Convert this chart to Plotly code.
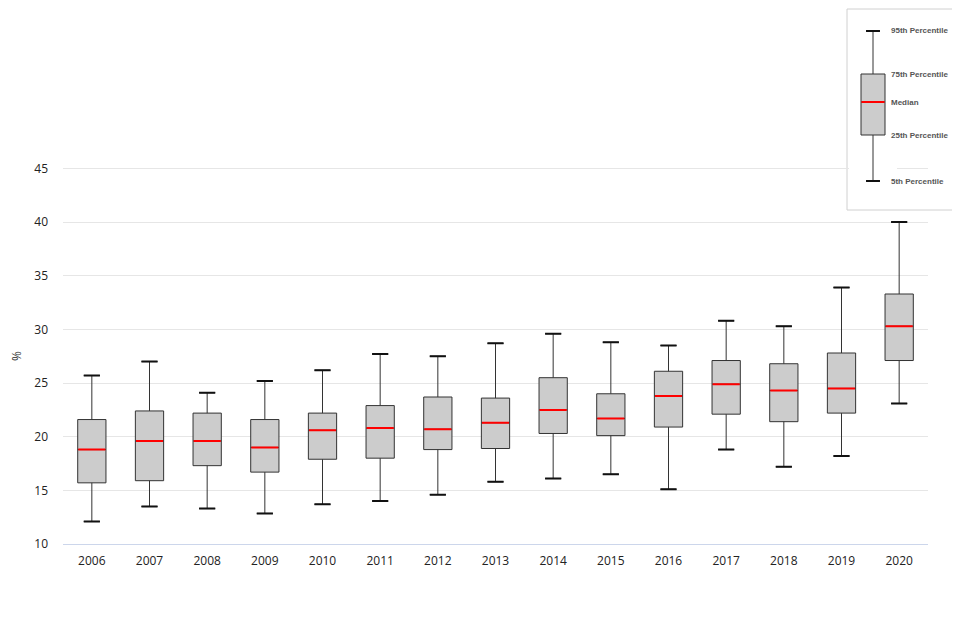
import plotly.graph_objects as go

# ---- data ----
years = ["2006", "2007", "2008", "2009", "2010", "2011", "2012", "2013",
         "2014", "2015", "2016", "2017", "2018", "2019", "2020"]
p5 = [12.1, 13.5, 13.3, 12.85, 13.7, 14.0, 14.6, 15.8, 16.1, 16.5, 15.1, 18.8, 17.2, 18.2, 23.1]
p25 = [15.7, 15.9, 17.3, 16.7, 17.9, 18.0, 18.8, 18.9, 20.3, 20.1, 20.9, 22.1, 21.4, 22.2, 27.1]
p50 = [18.8, 19.6, 19.6, 19.0, 20.6, 20.8, 20.7, 21.3, 22.5, 21.7, 23.8, 24.9, 24.3, 24.5, 30.3]
p75 = [21.6, 22.4, 22.2, 21.6, 22.2, 22.9, 23.7, 23.6, 25.5, 24.0, 26.1, 27.1, 26.8, 27.8, 33.3]
p95 = [25.7, 27.0, 24.1, 25.2, 26.2, 27.7, 27.5, 28.7, 29.6, 28.8, 28.5, 30.8, 30.3, 33.9, 40.0]

y_ticks = [10, 15, 20, 25, 30, 35, 40, 45]
y_title = "%"

# key (schematic) box, arbitrary units
key_labels = ["5th Percentile", "25th Percentile", "Median", "75th Percentile", "95th Percentile"]
key_values = [0, 46, 79, 107, 150]

FONT = "Open Sans"
BOX_W = 0.49
CAP_W = 0.28

fig = go.Figure()

# main boxes
fig.add_trace(go.Box(
    x=years, q1=p25, median=p50, q3=p75, lowerfence=p5, upperfence=p95,
    fillcolor="#cccccc", line=dict(color="#333333", width=1),
    whiskerwidth=0.57, width=BOX_W, hoverinfo="skip", showlegend=False,
    xaxis="x", yaxis="y"))
# thicker whisker caps
for vals in (p5, p95):
    fig.add_trace(go.Box(
        x=years, q1=vals, median=vals, q3=vals, lowerfence=vals, upperfence=vals,
        fillcolor="#000000", line=dict(color="#111111", width=2),
        whiskerwidth=0, width=CAP_W, hoverinfo="skip", showlegend=False,
        xaxis="x", yaxis="y"))
# red medians
fig.add_trace(go.Box(
    x=years, q1=p50, median=p50, q3=p50, lowerfence=p50, upperfence=p50,
    fillcolor="#ff0000", line=dict(color="#ff0000", width=2),
    whiskerwidth=0, width=BOX_W - 0.02, hoverinfo="skip", showlegend=False,
    xaxis="x", yaxis="y"))

# key schematic
k5, k25, k50, k75, k95 = key_values
fig.add_trace(go.Box(
    x=[0], q1=[k25], median=[k50], q3=[k75], lowerfence=[k5], upperfence=[k95],
    fillcolor="#cccccc", line=dict(color="#333333", width=1),
    whiskerwidth=0.58, width=1.0, hoverinfo="skip", showlegend=False,
    xaxis="x2", yaxis="y2"))
for v in (k5, k95):
    fig.add_trace(go.Box(
        x=[0], q1=[v], median=[v], q3=[v], lowerfence=[v], upperfence=[v],
        line=dict(color="#111111", width=2), whiskerwidth=0, width=0.58,
        hoverinfo="skip", showlegend=False, xaxis="x2", yaxis="y2"))
fig.add_trace(go.Box(
    x=[0], q1=[k50], median=[k50], q3=[k50], lowerfence=[k50], upperfence=[k50],
    line=dict(color="#ff0000", width=2), whiskerwidth=0, width=0.96,
    hoverinfo="skip", showlegend=False, xaxis="x2", yaxis="y2"))

# page has an 8px body margin: shrink figure and shift target pixel positions
OFF = 8
W, H = 960 - OFF, 640 - OFF


def fx(px):
    return (px - OFF) / W


def fy(py):
    return (H - (py - OFF)) / H


annotations = [dict(text="<b>" + lab + "</b>", x=0.68, y=v, xref="x2", yref="y2",
                    xanchor="left", yanchor="middle", showarrow=False,
                    font=dict(family="Liberation Sans", size=8, color="#555555"))
               for lab, v in zip(key_labels, key_values)]
annotations.append(dict(text=y_title, x=fx(16), y=fy(356), xref="paper", yref="paper",
                        showarrow=False, textangle=-90, xanchor="center", yanchor="middle",
                        font=dict(family=FONT, size=12, color="#333333")))

fig.update_layout(
    template="none",
    width=W, height=H,
    margin=dict(l=0, r=0, t=0, b=0, pad=0),
    paper_bgcolor="white", plot_bgcolor="white",
    boxmode="overlay",
    font=dict(family=FONT, size=12, color="#333333"),
    xaxis=dict(domain=[fx(63), fx(928)], type="category", categoryorder="array",
               categoryarray=years, range=[-0.5, 14.5], automargin=False,
               showgrid=False, showline=True, linecolor="#ccd6eb", zeroline=False,
               linewidth=1, ticks="", tickfont=dict(size=12, color="#222222"),
               ticklabelstandoff=6, anchor="y", fixedrange=True),
    yaxis=dict(domain=[fy(544), fy(147)], range=[10, 47], automargin=False,
               tickvals=y_ticks, showgrid=True, gridcolor="#e6e6e6", gridwidth=1,
               zeroline=False, showline=False, ticks="", ticklabelstandoff=14,
               tickfont=dict(size=12, color="#222222"), anchor="x", fixedrange=True),
    xaxis2=dict(domain=[fx(849), fx(897)], range=[-1, 1], visible=False, anchor="y2",
                automargin=False, fixedrange=True),
    yaxis2=dict(domain=[fy(190), fy(20)], range=[-9, 161], visible=False,
                anchor="x2", automargin=False, fixedrange=True),
    shapes=[dict(type="rect", xref="paper", yref="paper",
                 x0=fx(847), x1=fx(956), y0=fy(210), y1=fy(9),
                 line=dict(color="#d0d0d0", width=1), fillcolor="rgba(0,0,0,0)", layer="below")],
    annotations=annotations,
)

fig.write_html("out.html")
